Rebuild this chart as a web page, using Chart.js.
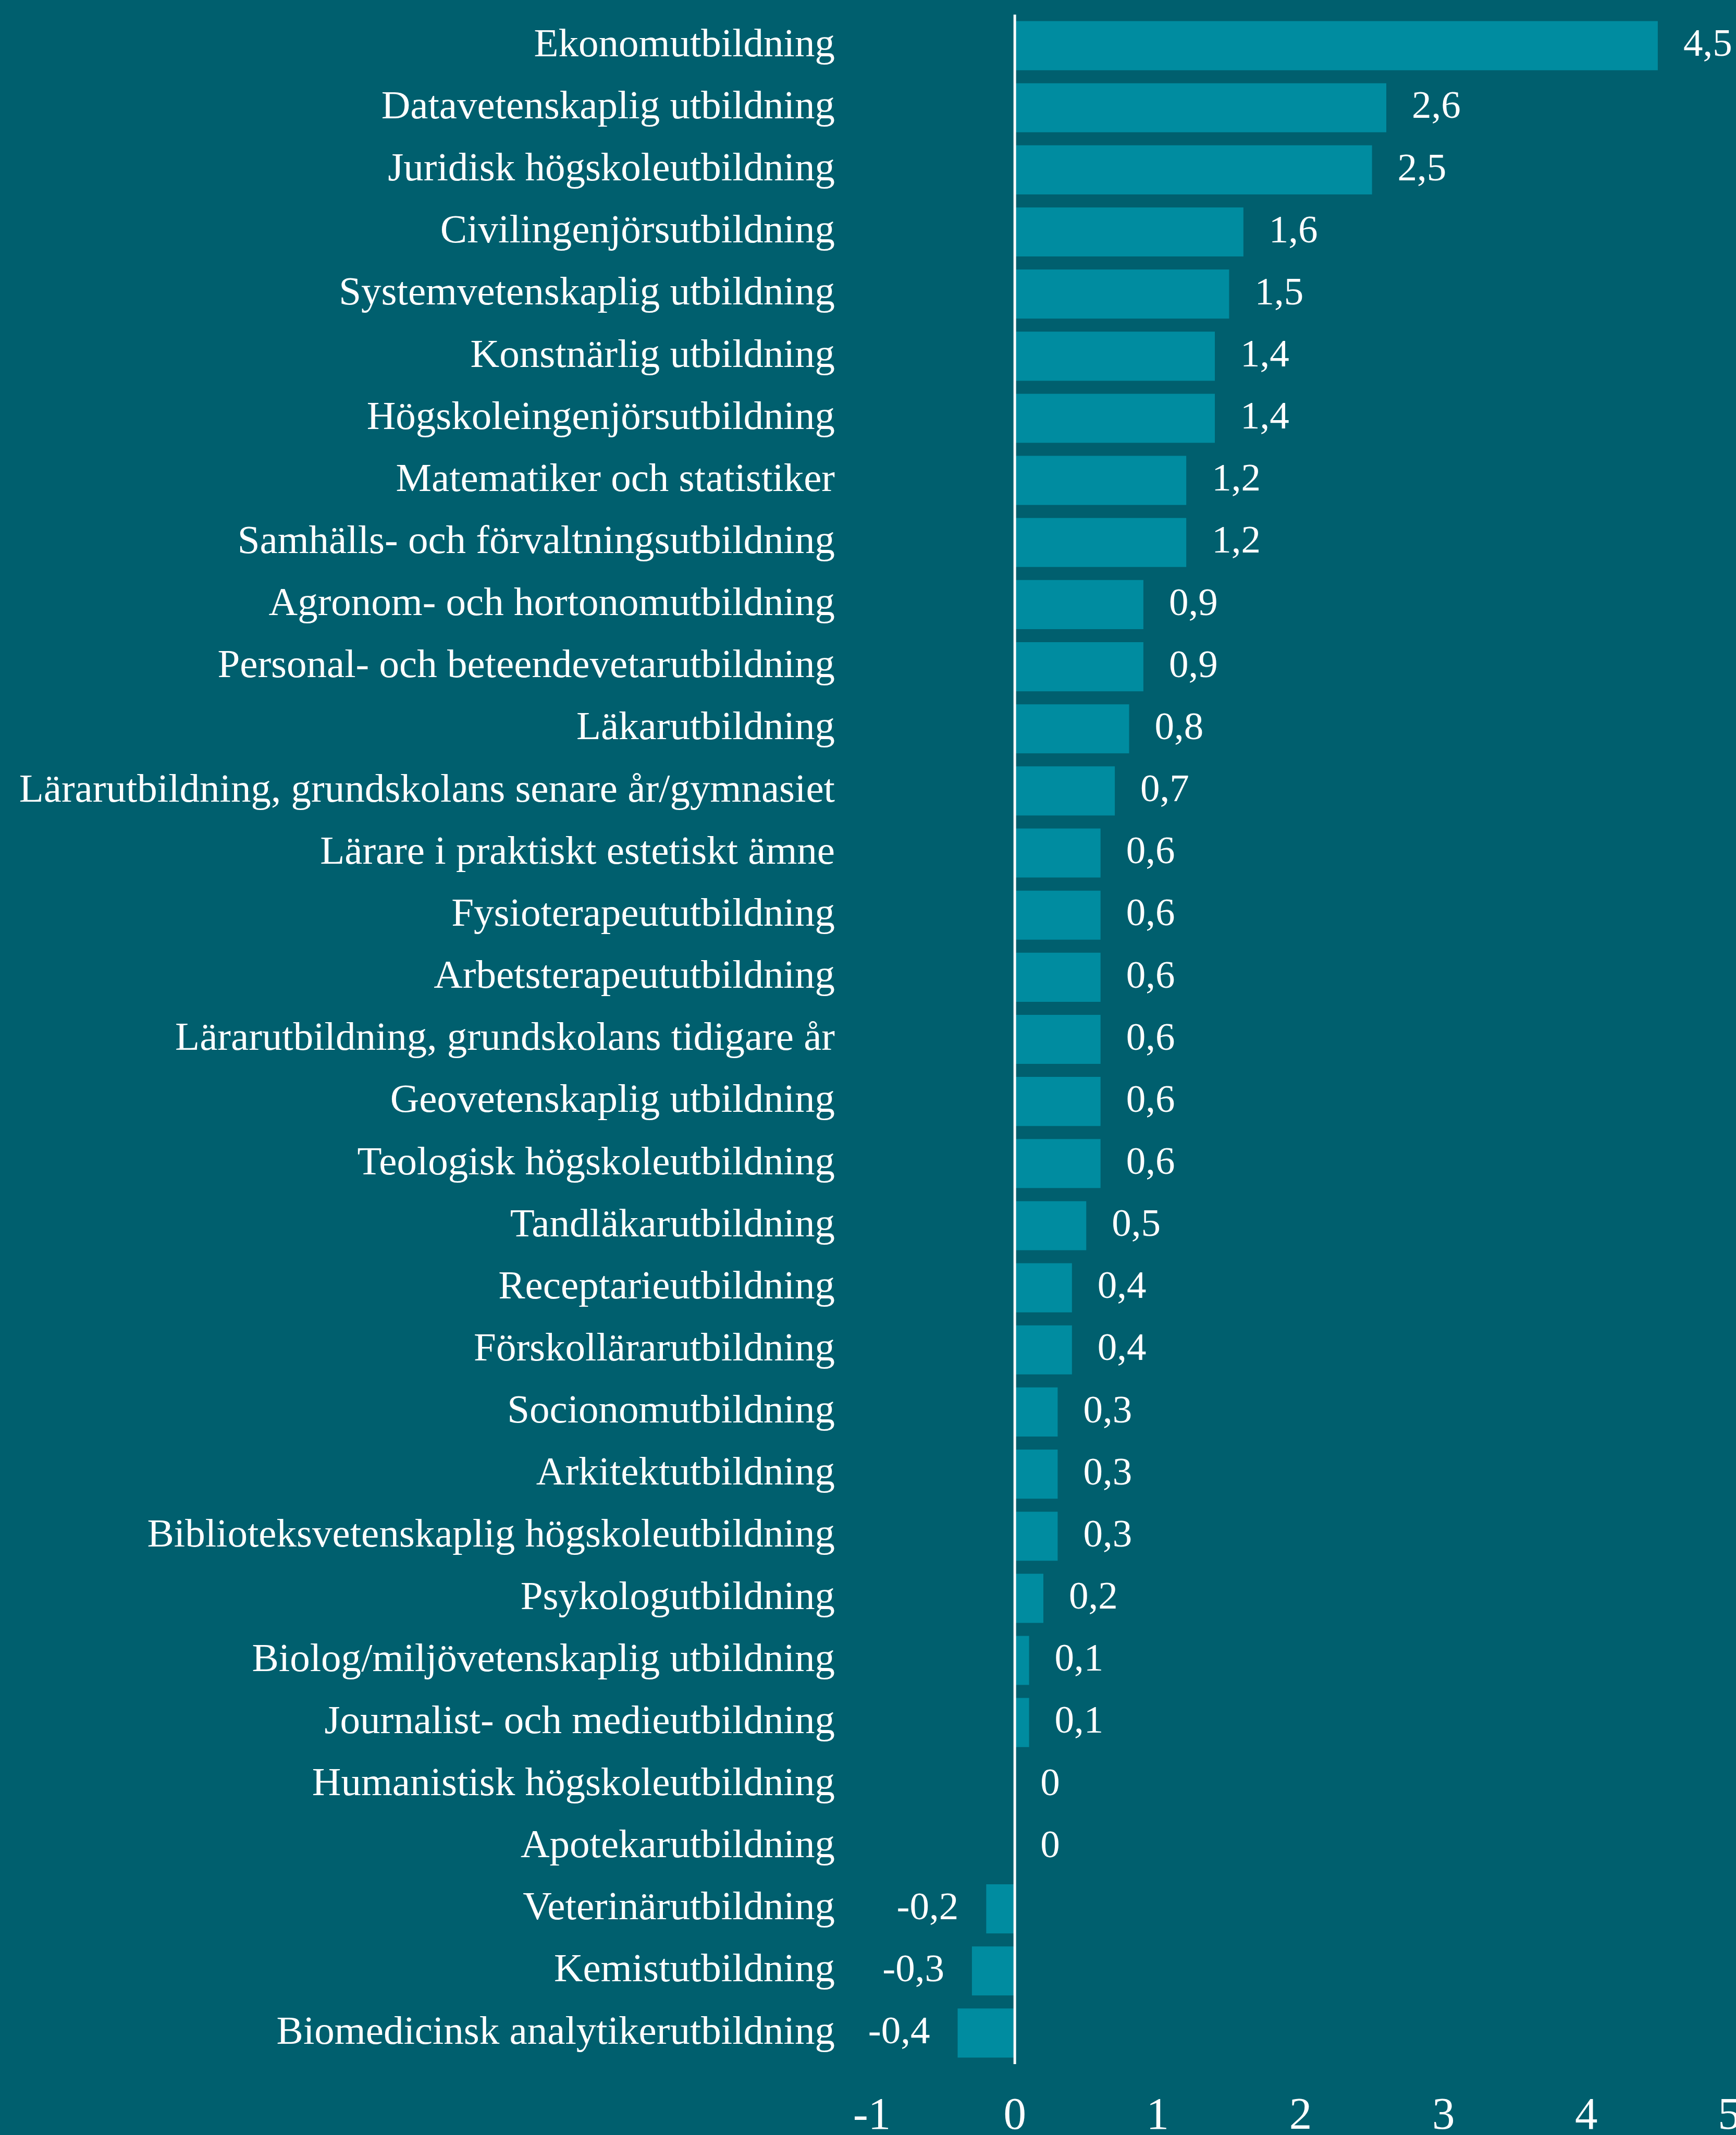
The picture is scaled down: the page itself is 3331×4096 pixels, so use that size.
<!DOCTYPE html>
<html>
<head>
<meta charset="utf-8">
<script src="https://cdn.jsdelivr.net/npm/chart.js@4"></script>
<style>
  html, body { margin: 0; padding: 0; background: #005f6e; }
  #wrap { width: 3331px; height: 4096px; position: relative; }
</style>
</head>
<body>
<div id="wrap"><canvas id="utbildning"></canvas></div>
<script>
var categories = [
  "Ekonomutbildning",
  "Datavetenskaplig utbildning",
  "Juridisk högskoleutbildning",
  "Civilingenjörsutbildning",
  "Systemvetenskaplig utbildning",
  "Konstnärlig utbildning",
  "Högskoleingenjörsutbildning",
  "Matematiker och statistiker",
  "Samhälls- och förvaltningsutbildning",
  "Agronom- och hortonomutbildning",
  "Personal- och beteendevetarutbildning",
  "Läkarutbildning",
  "Lärarutbildning, grundskolans senare år/gymnasiet",
  "Lärare i praktiskt estetiskt ämne",
  "Fysioterapeututbildning",
  "Arbetsterapeututbildning",
  "Lärarutbildning, grundskolans tidigare år",
  "Geovetenskaplig utbildning",
  "Teologisk högskoleutbildning",
  "Tandläkarutbildning",
  "Receptarieutbildning",
  "Förskollärarutbildning",
  "Socionomutbildning",
  "Arkitektutbildning",
  "Biblioteksvetenskaplig högskoleutbildning",
  "Psykologutbildning",
  "Biolog/miljövetenskaplig utbildning",
  "Journalist- och medieutbildning",
  "Humanistisk högskoleutbildning",
  "Apotekarutbildning",
  "Veterinärutbildning",
  "Kemistutbildning",
  "Biomedicinsk analytikerutbildning"
];
var values = [4.5, 2.6, 2.5, 1.6, 1.5, 1.4, 1.4, 1.2, 1.2, 0.9, 0.9, 0.8, 0.7,
  0.6, 0.6, 0.6, 0.6, 0.6, 0.6, 0.5, 0.4, 0.4, 0.3, 0.3, 0.3, 0.2, 0.1, 0.1,
  0, 0, -0.2, -0.3, -0.4];
var xTicks = [-1, 0, 1, 2, 3, 4, 5];

var barColor = "#008ca0";
var textColor = "#ffffff";
var serif = "'Liberation Serif', 'Times New Roman', serif";

function formatValue(v) {
  return String(v).replace(".", ",");
}

// value labels next to each bar + white zero line on top of the bars
const valueLabels = {
  id: "valueLabels",
  afterDatasetsDraw(chart) {
    const ctx = chart.ctx;
    const meta = chart.getDatasetMeta(0);
    const xScale = chart.scales.x;
    const zero = xScale.getPixelForValue(0);
    ctx.save();
    ctx.font = "75px " + serif;
    ctx.fillStyle = textColor;
    ctx.textBaseline = "middle";
    meta.data.forEach(function (bar, i) {
      const v = values[i];
      if (v < 0) {
        ctx.textAlign = "right";
        ctx.fillText(formatValue(v), bar.x - 53, bar.y);
      } else {
        ctx.textAlign = "left";
        ctx.fillText(formatValue(v), bar.x + 49, bar.y);
      }
    });
    ctx.strokeStyle = "#ffffff";
    ctx.lineWidth = 5;
    ctx.beginPath();
    ctx.moveTo(zero, chart.chartArea.top);
    ctx.lineTo(zero, chart.chartArea.bottom);
    ctx.stroke();
    ctx.restore();
  }
};

new Chart("utbildning", {
  type: "bar",
  data: {
    labels: categories,
    datasets: [{
      data: values,
      backgroundColor: barColor,
      borderWidth: 0,
      barPercentage: 0.79,
      categoryPercentage: 1
    }]
  },
  plugins: [valueLabels],
  options: {
    indexAxis: "y",
    responsive: true,
    maintainAspectRatio: false,
    animation: false,
    layout: {
      padding: { top: 28, right: 13, left: 0, bottom: 0 }
    },
    plugins: {
      legend: { display: false },
      tooltip: { enabled: false }
    },
    scales: {
      x: {
        min: xTicks[0],
        max: xTicks[xTicks.length - 1],
        afterBuildTicks: function (scale) {
          scale.ticks = xTicks.map(function (v) { return { value: v }; });
        },
        afterFit: function (scale) {
          scale.height = 136;
          scale.paddingLeft = 0;
          scale.paddingRight = 0;
        },
        grid: { display: false, drawTicks: false },
        border: { display: false },
        ticks: {
          color: textColor,
          padding: 49,
          maxRotation: 0,
          autoSkip: false,
          font: { family: serif, size: 87 },
          callback: function (v) { return String(v); }
        }
      },
      y: {
        afterFit: function (scale) {
          scale.width = 1673;
          scale.paddingTop = 0;
          scale.paddingBottom = 0;
        },
        grid: { display: false, drawTicks: false },
        border: { display: false },
        ticks: {
          color: textColor,
          padding: 71,
          autoSkip: false,
          font: { family: serif, size: 77 }
        }
      }
    }
  }
});
</script>
</body>
</html>
